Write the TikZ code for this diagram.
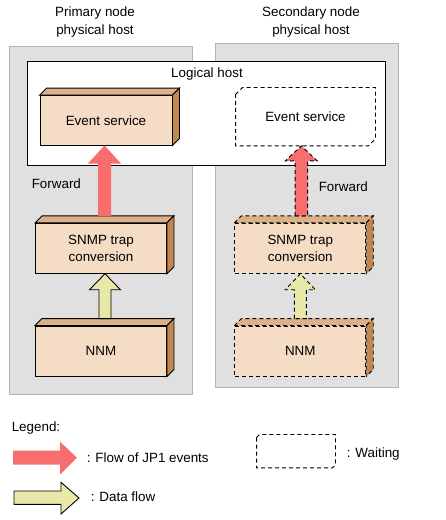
\documentclass[tikz,border=0pt]{standalone}
\usepackage{fontspec}
\setmainfont{Liberation Sans}
\usetikzlibrary{calc}

\definecolor{boxfront}{HTML}{F5DCC5}
\definecolor{boxtop}{HTML}{DCB088}
\definecolor{boxside}{HTML}{C08850}
\definecolor{evred}{HTML}{F86E6E}
\definecolor{datayel}{HTML}{E8E8A8}
\definecolor{hostgray}{HTML}{E0E0E0}
\definecolor{hostline}{HTML}{B4B4B4}

\tikzset{
  proc/.style={draw, fill=boxfront, minimum width=131pt, minimum height=50pt, inner sep=0pt, align=center},
  waitline/.style={dash pattern=on 4pt off 3pt},
  evflow/.style={fill=evred},
  dataflow/.style={fill=datayel, draw=black},
  hostbox/.style={fill=hostgray, draw=hostline},
}

% mat tren va mat ben cua hop
\newcommand{\cubefaces}[2]{%
  \filldraw[fill=boxtop,#2] (#1.north west) -- ++(7,-7) -- ($(#1.north east)+(7,-7)$) -- (#1.north east) -- cycle;
  \filldraw[fill=boxside,#2] (#1.north east) -- ++(7,-7) -- ($(#1.south east)+(7,-7)$) -- (#1.south east) -- cycle;}

% mui ten lon di len
\newcommand{\blockarrow}[6]{%
  \path[#1] let \p1=(#2), \p2=(#3) in
    (\x1-#4pt,\y1) -- (\x1-#4pt,\y2-#6pt) -- (\x1-#5pt,\y2-#6pt) -- (\x1,\y2)
    -- (\x1+#5pt,\y2-#6pt) -- (\x1+#4pt,\y2-#6pt) -- (\x1+#4pt,\y1) -- cycle;}

\begin{document}
\begin{tikzpicture}[x=1pt, y=-1pt, line width=0.9pt, font=\fontsize{13.4}{17}\selectfont]
  \useasboundingbox (0,0) rectangle (446,520);
  % Ve hai may vat ly
  \draw[hostbox] (9.5,46) rectangle (192.5,394);
  \draw[hostbox] (215.5,43) rectangle (398.5,387);
  \node[align=center, font=\fontsize{13.4}{18}\selectfont] (prim) at (95,22) {Primary node\\physical host};
  \node[align=center, font=\fontsize{13.4}{18}\selectfont] (sec) at (311,22) {Secondary node\\physical host};
  \draw[fill=white] (27.5,61.5) rectangle (385.5,165);
  \node (logic) at (207,74) {Logical host};
  % Ve cac hop
  \node[proc, minimum width=132pt, minimum height=49.5pt] (es1) at (106,120.3) {Event service};
  \node[proc] (snmp1) at (101,248.3) {SNMP trap\\conversion};
  \node[proc] (nnm1) at (101,351) {NNM};
  \node[proc, waitline] (snmp2) at (300.3,248.3) {SNMP trap\\conversion};
  \node[proc, waitline] (nnm2) at (300.3,351) {NNM};
  \foreach \n in {es1,snmp1,nnm1}
    \cubefaces{\n}{};
  \foreach \n in {snmp2,nnm2}
    \cubefaces{\n}{waitline};
  \node[minimum width=139pt, minimum height=57.5pt, inner sep=0pt] (es2) at (305.5,116.7) {Event service};
  \draw[waitline] ($(es2.north west)+(0,7)$) -- ($(es2.north west)+(7,0)$) -- (es2.north east)
    -- ($(es2.south east)+(0,-7)$) -- ($(es2.south east)+(-7,0)$) -- (es2.south west) -- cycle;
  % Ve mui ten
  \coordinate (ev1s) at ($(snmp1.north)+(3.5,-7)$);
  \coordinate (ev2s) at ($(snmp2.north)+(1,-7)$);
  \coordinate (df1s) at ($(nnm1.north)+(4,-7)$);
  \coordinate (df2s) at ($(nnm2.north)+(0,-7)$);
  \blockarrow{evflow}{ev1s}{es1.south}{6.5}{16.5}{18}
  \blockarrow{evflow, draw=black, waitline}{ev2s}{es2.south}{6.25}{16}{15}
  \blockarrow{dataflow}{df1s}{snmp1.south}{6}{15.5}{16}
  \blockarrow{dataflow, waitline}{df2s}{snmp2.south}{6}{15}{16}
  \node[anchor=west] (fw1) at (28,184) {Forward};
  \node[anchor=west] (fw2) at (315,187) {Forward};
  % Chu thich
  \node[anchor=west] (legend) at (8,428) {Legend:};
  \fill[evred] (13,450.7) -- (60,450.7) -- (60,441.7) -- (77,457.7) -- (60,474.7) -- (60,464.7) -- (13,464.7) -- cycle;
  \node[anchor=west] (lgev) at (83,457.7) {: Flow of JP1 events};
  \filldraw[fill=datayel] (14,491) -- (61,491) -- (61,482.3) -- (79,498) -- (61,514) -- (61,504.3) -- (14,504.3) -- cycle;
  \node[anchor=west] (lgdf) at (87,497) {: Data flow};
  \node[minimum width=78pt, minimum height=32.5pt, inner sep=0pt] (lgwait) at (296,451.2) {};
  \draw[waitline] ($(lgwait.north west)+(0,3)$) -- ($(lgwait.north west)+(3,0)$) -- (lgwait.north east)
    -- ($(lgwait.south east)+(0,-3)$) -- ($(lgwait.south east)+(-3,0)$) -- (lgwait.south west) -- cycle;
  \node[anchor=west] (lgwt) at (343,454) {: Waiting};
\end{tikzpicture}
\end{document}
